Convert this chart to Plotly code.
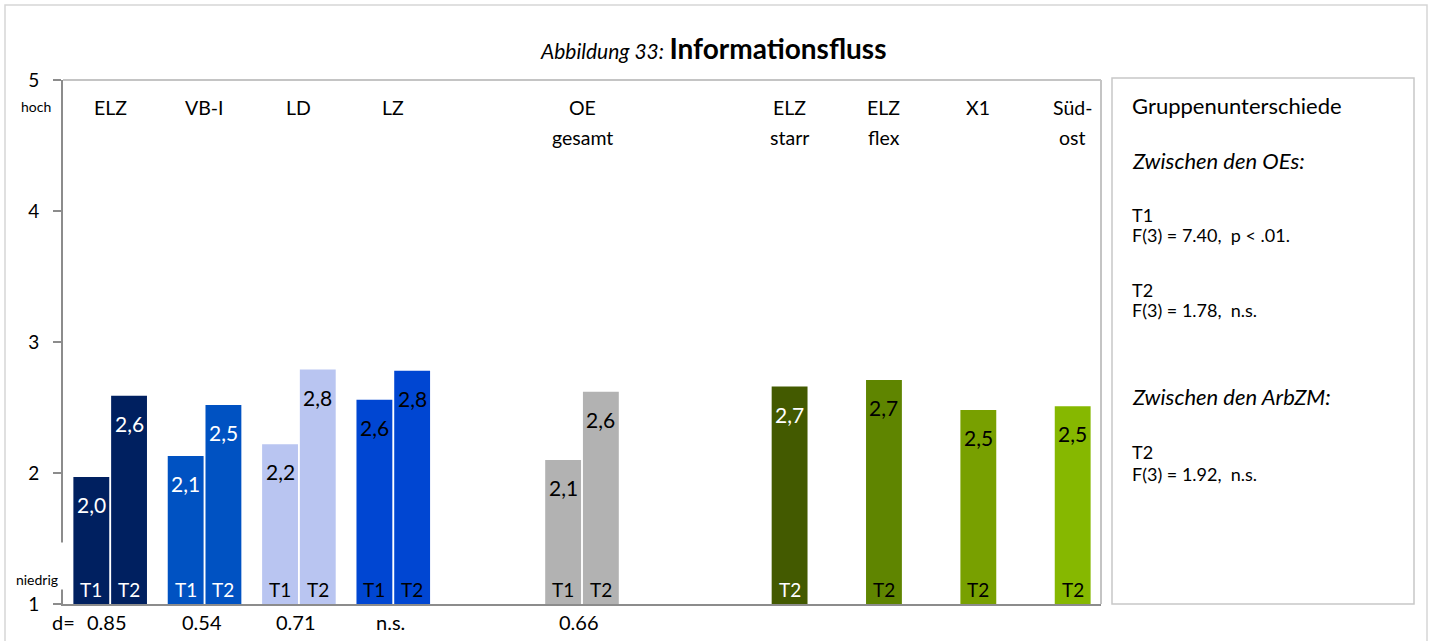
import plotly.graph_objects as go

# ---- data -------------------------------------------------------------
group_labels = [["ELZ"], ["VB-I"], ["LD"], ["LZ"], ["OE", "gesamt"],
                ["ELZ", "starr"], ["ELZ", "flex"], ["X1"], ["Süd-", "ost"]]
group_slots = [0, 1, 2, 3, 5, 7, 8, 9, 10]

t1_slots = [0, 1, 2, 3, 5]
t1_values = [1.97, 2.13, 2.22, 2.56, 2.10]
t2_slots = [0, 1, 2, 3, 5, 7, 8, 9, 10]
t2_values = [2.59, 2.52, 2.79, 2.78, 2.62, 2.66, 2.71, 2.48, 2.51]

t1_colors = ["#002060", "#0052C2", "#B9C5F1", "#0046D2", "#B2B2B2"]
t2_colors = ["#002060", "#0052C2", "#B9C5F1", "#0046D2", "#B2B2B2",
             "#435A00", "#5F8500", "#78A000", "#86B800"]
t1_text_colors = ["white", "white", "black", "black", "black"]
t2_text_colors = ["white", "white", "black", "black", "black",
                  "white", "black", "black", "black"]

d_slots = [0, 1, 2, 3, 5]
d_labels = ["0.85", "0.54", "0.71", "n.s.", "0.66"]

y_ticks = [1, 2, 3, 4, 5]

NB = "\u00a0"
stats_lines = [
    ("Gruppenunterschiede", 105, 22, False),
    ("Zwischen den OEs:", 160, 22, True),
    ("T1", 215, 18, False),
    (f"F(3) = 7.40,{NB} p < .01.", 235, 18, False),
    ("T2", 290, 18, False),
    (f"F(3) = 1.78,{NB} n.s.", 310, 18, False),
    ("Zwischen den ArbZM:", 396, 22, True),
    ("T2", 452, 18, False),
    (f"F(3) = 1.92,{NB} n.s.", 474, 18, False),
]

# ---- geometry ---------------------------------------------------------
W, H = 1431, 641
L, R, T, B = 63, 1101, 80, 604
PW, PH = R - L, B - T
BAR_W = 0.38
T1_OFF, T2_OFF = -0.39, 0.01
FONT = "Lato"


def px_x(px):
    return (px - L) / PW


def px_y(py):
    return (B - py) / PH


def fmt(v):
    return f"{v:.1f}".replace(".", ",")


fig = go.Figure()
fig.add_trace(go.Bar(x=t1_slots, y=t1_values, width=BAR_W, offset=T1_OFF,
                     marker=dict(color=t1_colors, line=dict(width=0)),
                     hoverinfo="skip", showlegend=False))
fig.add_trace(go.Bar(x=t2_slots, y=t2_values, width=BAR_W, offset=T2_OFF,
                     marker=dict(color=t2_colors, line=dict(width=0)),
                     hoverinfo="skip", showlegend=False))

ann = []
# value labels near the bar tops and T1/T2 tags at the bar feet
for slots, vals, tcols, off, tag in [
        (t1_slots, t1_values, t1_text_colors, T1_OFF, "T1"),
        (t2_slots, t2_values, t2_text_colors, T2_OFF, "T2")]:
    for s, v, c in zip(slots, vals, tcols):
        xc = s + off + BAR_W / 2
        ann.append(dict(x=xc, y=v, xref="x", yref="y", text=fmt(v),
                        showarrow=False, xanchor="center", yanchor="middle",
                        yshift=-27.5,
                        font=dict(family=FONT, size=21, color=c)))
        ann.append(dict(x=xc, y=1, xref="x", yref="y", text=tag,
                        showarrow=False, xanchor="center", yanchor="middle",
                        yshift=15,
                        font=dict(family=FONT, size=19, color=c)))

# category names inside the top of the plot
for slot, lines in zip(group_slots, group_labels):
    xc = slot if slot in t1_slots else slot + T2_OFF + BAR_W / 2
    for i, line in enumerate(lines):
        ann.append(dict(x=xc, y=px_y(107 + 30 * i), xref="x", yref="paper",
                        text=line, showarrow=False, xanchor="center",
                        yanchor="middle",
                        font=dict(family=FONT, size=19.5, color="black")))

# effect sizes below the axis
ann.append(dict(x=px_x(63.5), y=px_y(622), xref="paper", yref="paper",
                text="d=", showarrow=False, xanchor="center", yanchor="middle",
                font=dict(family=FONT, size=20, color="black")))
for s, t in zip(d_slots, d_labels):
    ann.append(dict(x=s - 0.03, y=px_y(622), xref="x", yref="paper",
                    text=t, showarrow=False, xanchor="center",
                    yanchor="middle",
                    font=dict(family=FONT, size=20, color="black")))

# scale anchors
ann.append(dict(x=px_x(36), y=px_y(106), xref="paper", yref="paper",
                text="hoch", showarrow=False, xanchor="center",
                yanchor="middle",
                font=dict(family=FONT, size=14, color="black")))
ann.append(dict(x=px_x(37), y=px_y(566), xref="paper", yref="paper",
                text="niedrig", showarrow=False, xanchor="center",
                yanchor="middle", width=54, height=44, valign="bottom",
                bgcolor="white",
                font=dict(family=FONT, size=14, color="black")))

# title
ann.append(dict(x=px_x(713), y=px_y(48), xref="paper", yref="paper",
                text="<i>Abbildung 33:</i> "
                     "<span style='font-size:28px'><b>Informationsfluss</b></span>",
                showarrow=False, xanchor="center", yanchor="middle",
                font=dict(family=FONT, size=21, color="black")))

# statistics box text
for text, py, size, ital in stats_lines:
    ann.append(dict(x=px_x(1130), y=px_y(py), xref="paper", yref="paper",
                    text=f"<i>{text}</i>" if ital else text, showarrow=False,
                    xanchor="left", yanchor="middle",
                    font=dict(family=FONT, size=size, color="black")))

shapes = [
    # outer frame
    dict(type="rect", xref="paper", yref="paper", x0=px_x(5), x1=px_x(1427),
         y0=px_y(650), y1=px_y(5), line=dict(color="#D6D6D6", width=1.5),
         layer="below"),
    # plot area top and right edges
    dict(type="line", xref="paper", yref="paper", x0=0, x1=1, y0=1, y1=1,
         line=dict(color="#C4C4C4", width=2)),
    dict(type="line", xref="paper", yref="paper", x0=1, x1=1, y0=0, y1=1,
         line=dict(color="#C4C4C4", width=2)),
    # statistics box
    dict(type="rect", xref="paper", yref="paper", x0=px_x(1112), x1=px_x(1414),
         y0=px_y(604), y1=px_y(78), line=dict(color="#C8C8C8", width=1.5)),
]

fig.update_layout(
    width=W, height=H, autosize=False,
    margin=dict(l=L, r=W - R, t=T, b=H - B, pad=0),
    paper_bgcolor="white", plot_bgcolor="white",
    barmode="overlay",
    font=dict(family=FONT, color="black"),
    xaxis=dict(range=[-0.5, 10.5], showticklabels=False, ticks="",
               showgrid=False, zeroline=False, showline=True,
               linecolor="#8C8C8C", linewidth=2, fixedrange=True),
    yaxis=dict(range=[1, 5], tickvals=y_ticks, ticks="outside", ticklen=8,
               tickcolor="#8C8C8C", tickwidth=1.5, showgrid=False,
               zeroline=False, showline=True, linecolor="#8C8C8C",
               linewidth=2, tickfont=dict(family=FONT, size=19),
               ticklabelstandoff=10, fixedrange=True),
    annotations=ann,
    shapes=shapes,
)

fig.write_html("out.html")
